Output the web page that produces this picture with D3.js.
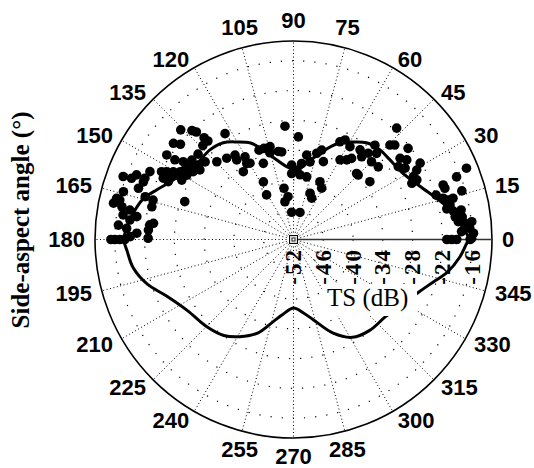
<!DOCTYPE html>
<html>
<head>
<meta charset="utf-8">
<script src="https://cdn.jsdelivr.net/npm/d3@7/dist/d3.min.js"></script>
<style>
  body { margin: 0; background: #fff; }
  svg { display: block; }
</style>
</head>
<body>
<div id="polar_chart"></div>
<script>
// angular ticks (degrees) and radial ticks (TS, dB)
var angleTicks = [0, 15, 30, 45, 60, 75, 90, 105, 120, 135, 150, 165,
                  180, 195, 210, 225, 240, 255, 270, 285, 300, 315, 330, 345];
var tsTicks = [-52, -46, -40, -34, -28, -22, -16];

// model curve: side-aspect angle (deg) vs TS (dB)
var curveAngle = [0, 4, 12, 23, 31, 40, 46, 53, 59, 65, 73, 80, 87, 95, 104, 110, 114, 120,
                  126, 133, 142, 149, 155, 160, 165, 171, 176, 180, 184, 190, 197, 204, 214,
                  225, 234, 241, 249, 256, 262, 270, 278, 284, 293, 301, 310, 320, 337, 343,
                  348, 354, 359];
var curveTS = [-16.6, -17.8, -20.4, -24.4, -26.2, -26.8, -26.9, -27.6, -29.1, -30.6, -33.8, -36.3,
               -38.0, -37.3, -34.9, -32.4, -30.7, -29.3, -27.9, -27.3, -27.2, -26.0, -24.6, -22.7,
               -20.6, -19.2, -18.3, -17.8, -18.4, -19.2, -21.2, -24.0, -26.3, -27.2, -28.1, -29.6,
               -31.8, -34.9, -36.8, -38.2, -37.0, -35.3, -31.5, -29.0, -28.1, -27.8, -24.7, -22.6,
               -20.3, -18.3, -17.0];

// measured points
var dotAngle = [135.8, 133.0, 132.1, 131.3, 131.0, 141.3, 139.9, 134.0, 122.9, 138.2, 142.0, 144.8,
                146.3, 146.1, 144.9, 142.0, 138.7, 143.4, 145.9, 147.4, 149.1, 150.6, 151.9, 152.8,
                154.8, 153.0, 151.1, 148.9, 152.0, 155.2, 154.7, 157.6, 157.6, 159.3, 159.7, 159.0,
                161.7, 164.3, 166.9, 168.6, 167.2, 169.2, 163.9, 164.3, 167.0, 169.8, 171.8, 171.7,
                173.2, 175.3, 176.2, 174.2, 173.4, 176.3, 177.7, 179.5, 179.0, 160.8, 180, 180,
                180, 180, 134.6, 129.4, 124.7, 125.5, 120.4, 121.6, 126.5, 119.7, 111.6, 117.6,
                121.1, 94.3, 100.5, 102.8, 111.1, 105.2, 99.8, 104.2, 108.0, 97.3, 93.8, 76.5,
                91.4, 87.4, 84.2, 78.1, 91.6, 81.1, 83.9, 78.0, 65.4, 70.3, 66.2, 69.0,
                74.9, 72.5, 59.7, 56.2, 54.4, 46.3, 64.6, 62.6, 58.7, 87.3, 61.2, 97.7,
                47.2, 53.4, 50.5, 49.1, 49.2, 46.0, 44.9, 40.6, 44.9, 37.1, 44.4, 43.0,
                38.5, 37.3, 35.1, 34.8, 32.6, 31.1, 29.4, 27.7, 25.4, 25.8, 22.4, 21.0,
                20.0, 18.7, 16.1, 17.3, 15.4, 14.3, 14.5, 12.4, 11.3, 10.1, 10.0, 8.0,
                6.2, 7.6, 5.4, 5.7, 3.6, 2.0, 0.4, 2.7, 0, 0, 0, 0];
var dotTS = [-20.3, -22.0, -22.8, -24.7, -25.7, -21.0, -22.2, -25.7, -26.6, -26.2, -26.0, -24.8,
             -21.3, -23.2, -26.5, -27.6, -28.3, -28.5, -27.6, -26.0, -25.4, -24.2, -23.0, -22.1,
             -23.0, -24.1, -25.1, -26.9, -26.5, -24.2, -20.0, -19.6, -17.8, -17.1, -15.4, -19.6,
             -19.1, -16.4, -15.4, -15.0, -16.1, -16.8, -20.9, -22.6, -22.7, -18.5, -17.3, -20.1,
             -18.8, -16.6, -18.3, -22.9, -23.6, -22.7, -20.4, -22.7, -19.1, -28.8, -15.2, -16.0,
             -17.0, -18.0, -30.0, -30.8, -31.3, -32.3, -32.7, -34.0, -35.0, -34.3, -35.5, -38.9,
             -41.5, -29.1, -41.5, -44.2, -32.7, -33.9, -34.0, -32.7, -32.7, -43.3, -46.5, -46.4,
             -37.0, -38.0, -38.9, -39.1, -38.7, -34.8, -36.6, -36.0, -39.2, -42.1, -42.9, -35.2,
             -34.0, -33.1, -33.4, -32.7, -31.9, -33.6, -30.2, -29.4, -30.1, -31.3, -40.2, -34.2,
             -21.4, -29.5, -30.4, -29.0, -26.9, -27.9, -29.8, -29.5, -33.6, -32.7, -24.8, -24.1,
             -22.5, -25.0, -24.1, -26.3, -25.3, -22.2, -23.5, -24.7, -25.6, -24.4, -14.3, -16.8,
             -19.9, -19.8, -16.7, -21.9, -20.7, -19.8, -18.8, -19.7, -20.5, -19.3, -17.7, -19.1,
             -18.6, -17.7, -17.3, -15.9, -16.4, -15.7, -16.1, -18.1, -21.1, -20.1, -19.1, -16.4];

plot_polar_chart("#polar_chart", 534, 468);


// Draws the polar TS plot into htmlObjectId
function plot_polar_chart (htmlObjectId, width, height) {

    var cx = 293.5, cy = 239.5, R = 198.5;

    // radial scale: TS in dB -> pixel radius
    var rScale = d3.scaleLinear()
                    .domain([-52, -12])
                    .range([0, R])
                    ;

    // angular scale: degrees -> radians (counter clockwise from east)
    var aScale = d3.scaleLinear()
                    .domain([0, 360])
                    .range([0, 2 * Math.PI])
                    ;

    function px(a, ts) { return cx + rScale(ts) * Math.cos(aScale(a)); }
    function py(a, ts) { return cy - rScale(ts) * Math.sin(aScale(a)); }

    var canvas = d3.select(htmlObjectId)
                    .append("svg")
                    .attr("width", width)
                    .attr("height", height)
                    ;

    canvas.append("rect")
        .attr("width", width)
        .attr("height", height)
        .attr("fill", "#fff");

    // dotted rings at every radial tick
    canvas.selectAll("circle.ring")
        .data(tsTicks.slice(1))
      .enter().append("circle")
        .attr("class", "ring")
        .attr("cx", cx)
        .attr("cy", cy)
        .attr("r", function(d) { return rScale(d); })
        .attr("fill", "none")
        .attr("stroke", "#000")
        .attr("stroke-width", 1.2)
        .attr("stroke-dasharray", "1.2,10")
        ;

    // dotted spokes every 15 degrees (0 is drawn solid later)
    canvas.selectAll("line.spoke")
        .data(angleTicks.filter(function(d) { return d !== 0; }))
      .enter().append("line")
        .attr("class", "spoke")
        .attr("x1", cx)
        .attr("y1", cy)
        .attr("x2", function(d) { return px(d, -12); })
        .attr("y2", function(d) { return py(d, -12); })
        .attr("stroke", "#000")
        .attr("stroke-width", 1)
        .attr("stroke-dasharray", "1,2.5")
        ;

    // outer circle
    canvas.append("circle")
        .attr("cx", cx)
        .attr("cy", cy)
        .attr("r", rScale(-12))
        .attr("fill", "none")
        .attr("stroke", "#000")
        .attr("stroke-width", 1.6)
        ;

    // solid radial axis along 0 deg
    canvas.append("line")
        .attr("x1", cx)
        .attr("y1", cy)
        .attr("x2", px(0, -12))
        .attr("y2", py(0, -12))
        .attr("stroke", "#333")
        .attr("stroke-width", 1.6)
        ;

    // little square marking the pole
    canvas.append("rect")
        .attr("x", cx - 4).attr("y", cy - 4)
        .attr("width", 8).attr("height", 8)
        .attr("fill", "#ddd").attr("stroke", "#000").attr("stroke-width", 1);
    canvas.append("rect")
        .attr("x", cx - 1.5).attr("y", cy - 1.5)
        .attr("width", 3).attr("height", 3)
        .attr("fill", "#fff").attr("stroke", "#000").attr("stroke-width", 0.8);

    // measured points
    canvas.selectAll("circle.dot")
        .data(dotAngle)
      .enter().append("circle")
        .attr("class", "dot")
        .attr("cx", function(d, i) { return px(d, dotTS[i]); })
        .attr("cy", function(d, i) { return py(d, dotTS[i]); })
        .attr("r", 4.8)
        .attr("fill", "#000")
        ;

    // model curve, closed and smoothed
    var line = d3.line()
        .x(function(d) { return px(d[0], d[1]); })
        .y(function(d) { return py(d[0], d[1]); })
        .curve(d3.curveCatmullRomClosed)
        ;

    canvas.append("path")
        .data([curveAngle.map(function(a, i) { return [a, curveTS[i]]; })])
        .attr("fill", "none")
        .attr("stroke", "#000")
        .attr("stroke-width", 3)
        .attr("stroke-linejoin", "round")
        .attr("d", line)
        ;

    // angle labels round the outside
    var capH = 15.8, gap = 10;
    canvas.selectAll("text.angle")
        .data(angleTicks)
      .enter().append("text")
        .attr("class", "angle")
        .text(function(d) { return d; })
        .attr("font-family", "'Liberation Sans', Arial, sans-serif")
        .attr("font-weight", "bold")
        .attr("font-size", "22px")
        .each(function(d) {
            var c = Math.cos(aScale(d)), s = Math.sin(aScale(d));
            var ax = cx + (R + gap) * c, ay = cy - (R + gap) * s;
            var anchor, by;
            if (Math.abs(c) < 0.3) {
                anchor = "middle";
                by = s > 0 ? ay - 3 : ay + capH;
            } else {
                anchor = c > 0 ? "start" : "end";
                by = ay + capH / 2;
            }
            d3.select(this)
                .attr("x", ax)
                .attr("y", by)
                .attr("text-anchor", anchor);
        })
        ;

    // TS tick labels, rotated, under the 0 deg axis
    canvas.selectAll("text.ts")
        .data(tsTicks)
      .enter().append("text")
        .attr("class", "ts")
        .text(function(d) { return d; })
        .attr("font-family", "'Liberation Serif', 'Times New Roman', serif")
        .attr("font-weight", "bold")
        .attr("font-size", "23px")
        .attr("letter-spacing", "2px")
        .attr("text-anchor", "end")
        .attr("transform", function(d) {
            return "translate(" + (cx + rScale(d) + 7.5) + ",248) rotate(-90)";
        })
        ;

    // radial axis title with a white box that hides the curve behind it
    canvas.append("rect")
        .attr("x", 322)
        .attr("y", 284)
        .attr("width", 95)
        .attr("height", 32)
        .attr("fill", "#fff");

    canvas.append("text")
        .attr("x", 327)
        .attr("y", 306)
        .attr("font-family", "'Liberation Serif', 'Times New Roman', serif")
        .attr("font-size", "25px")
        .text("TS (dB)");

    // angular axis title
    canvas.append("text")
        .attr("transform", "translate(29,220) rotate(-90)")
        .attr("text-anchor", "middle")
        .attr("font-family", "'Liberation Serif', 'Times New Roman', serif")
        .attr("font-weight", "bold")
        .attr("font-size", "25px")
        .text("Side-aspect angle (\u00B0)");
}
</script>
</body>
</html>
